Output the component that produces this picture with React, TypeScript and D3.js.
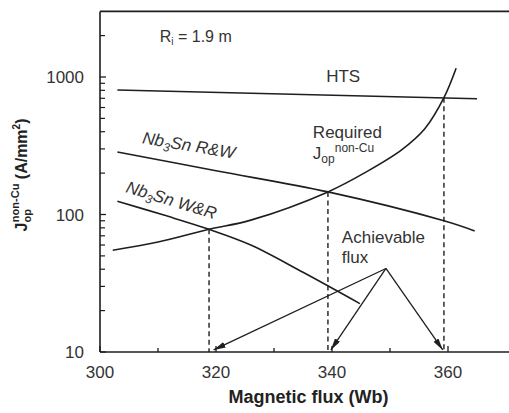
import React from "react"
import * as d3 from "d3"

// flux (Wb) vs J (A/mm^2)
const htsFlux = [303, 365]
const htsJ = [805, 695]
const rwFlux = [303, 320, 339.3, 359.3, 364.6]
const rwJ = [285, 208, 146, 90, 76]
const wrFlux = [303, 311, 318.8, 326, 335, 344.8]
const wrJ = [125, 99, 78, 60, 38, 22.5]
const reqFlux = [302.2, 310, 318.8, 326, 339.3, 346, 352, 356, 359.3, 361.4]
const reqJ = [55, 63, 78, 91, 146, 205, 295, 420, 707, 1157]

// crossings (dashed drops) and arrow tips
const crossFlux = [318.8, 339.3, 359.3]
const crossJ = [78, 146, 707]
const arrowFrom = [349.3, 40.5]
const arrowTipFlux = [319.6, 339.8, 359.1]
const arrowTipJ = 10.35

const xTicks = [300, 310, 320, 330, 340, 350, 360]
const xLabels = [300, 320, 340, 360]
const yMajor = [10, 100, 1000]
const yMinor = [20, 30, 40, 50, 60, 70, 80, 90, 200, 300, 400, 500, 600, 700, 800, 900, 2000]

const W = 509
const H = 413
const font = "'Liberation Sans', Arial, sans-serif"
const ink = "#1e1e1e"

export default function App() {
  const x = d3.scaleLinear().domain([300, 370]).range([100, 506])
  const y = d3.scaleLog().domain([10, 3000]).range([352, 11.4])
  const x0 = x(300)
  const y0 = y(10)
  const yTop = y(3000)

  const line = d3
    .line<[number, number]>()
    .x(d => x(d[0]))
    .y(d => y(d[1]))
    .curve(d3.curveCatmullRom.alpha(0.5))
  const pts = (fx: number[], jy: number[]) => fx.map((f, i) => [f, jy[i]] as [number, number])

  const curve = (fx: number[], jy: number[]) => (
    <path d={line(pts(fx, jy)) || ""} fill="none" stroke={ink} strokeWidth={1.6} />
  )

  return (
    <svg width={W} height={H} style={{ position: "absolute", left: 0, top: 0, background: "#fff" }}
      fontFamily={font}>
      <defs>
        <marker id="head" viewBox="0 0 12 6" refX="12" refY="3" markerWidth="12" markerHeight="6"
          markerUnits="userSpaceOnUse" orient="auto">
          <path d="M0,0 L12,3 L0,6 Z" fill={ink} />
        </marker>
      </defs>

      {/* frame */}
      <line x1={x0} x2={W} y1={yTop} y2={yTop} stroke={ink} strokeWidth={1.6} />
      <line x1={x0} x2={x0} y1={yTop} y2={y0} stroke={ink} strokeWidth={1.6} />
      <line x1={x0} x2={W} y1={y0} y2={y0} stroke={ink} strokeWidth={1.6} />

      {/* x ticks */}
      {xTicks.map(t => (
        <line key={"xt" + t} x1={x(t)} x2={x(t)} y1={y0} y2={y0 - (t % 20 === 0 ? 6 : 4)}
          stroke={ink} strokeWidth={1.3} />
      ))}
      {xLabels.map(t => (
        <text key={"xl" + t} x={x(t)} y={y0 + 26} textAnchor="middle" fontSize={17} fill="#333">{t}</text>
      ))}

      {/* y ticks */}
      {yMajor.map(t => (
        <g key={"ym" + t}>
          <line x1={x0} x2={x0 + 6} y1={y(t)} y2={y(t)} stroke={ink} strokeWidth={1.3} />
          <text x={84} y={y(t)} dy="0.36em" textAnchor="end" fontSize={17} fill="#333">{t}</text>
        </g>
      ))}
      {yMinor.map(t => (
        <line key={"yn" + t} x1={x0} x2={x0 + 5} y1={y(t)} y2={y(t)} stroke={ink} strokeWidth={1.2} />
      ))}

      {/* dashed drops */}
      {crossFlux.map((f, i) => (
        <line key={"dd" + f} x1={x(f)} x2={x(f)} y1={y(crossJ[i])} y2={y0}
          stroke={ink} strokeWidth={1.4} strokeDasharray="5,3.5" />
      ))}

      {curve(htsFlux, htsJ)}
      {curve(rwFlux, rwJ)}
      {curve(wrFlux, wrJ)}
      {curve(reqFlux, reqJ)}

      {/* arrows */}
      {arrowTipFlux.map(f => (
        <line key={"ar" + f} x1={x(arrowFrom[0])} y1={y(arrowFrom[1])} x2={x(f)} y2={y(arrowTipJ)}
          stroke={ink} strokeWidth={1.3} markerEnd="url(#head)" />
      ))}

      {/* annotations */}
      <text x={x(310.3)} y={y(1797)} fontSize={16} fill="#333">
        R<tspan fontSize={10} dy={3}>i</tspan><tspan dy={-3}> = 1.9 m</tspan>
      </text>
      <text x={x(339)} y={y(920)} fontSize={17} fill="#333">HTS</text>
      <text x={x(336.7)} y={y(360)} fontSize={17} fill="#333">Required</text>
      <text x={x(336.7)} y={y(254)} fontSize={17} fill="#333">
        J<tspan fontSize={12} dy={4}>op</tspan><tspan fontSize={12} dy={-11}>non-Cu</tspan>
      </text>
      <text transform={`translate(${x(307.2)},${y(330)}) rotate(9.5)`} fontSize={17}
        fontStyle="italic" fill="#333">
        Nb<tspan fontSize={12} dy={4}>3</tspan><tspan dy={-4}>Sn R&amp;W</tspan>
      </text>
      <text transform={`translate(${x(304.3)},${y(146)}) rotate(17)`} fontSize={17}
        fontStyle="italic" fill="#333">
        Nb<tspan fontSize={12} dy={4}>3</tspan><tspan dy={-4}>Sn W&amp;R</tspan>
      </text>
      <text x={x(341.7)} y={y(61.8)} fontSize={17} fill="#333">Achievable</text>
      <text x={x(341.7)} y={y(44.2)} fontSize={17} fill="#333">flux</text>

      {/* axis titles */}
      <text x={(x0 + W) / 2 + 4} y={403} textAnchor="middle" fontSize={18} fontWeight="bold" fill="#222">
        Magnetic flux (Wb)
      </text>
      <text transform={`translate(27,${(110 + 240) / 2}) rotate(-90)`} textAnchor="middle" fontSize={16}
        fontWeight="bold" fill="#222">
        J<tspan fontSize={11} dy={4}>op</tspan><tspan fontSize={11} dx={-13} dy={-12}>non-Cu</tspan>
        <tspan fontSize={16} dy={8}> (A/mm</tspan><tspan fontSize={10} dy={-7}>2</tspan>
        <tspan fontSize={16} dy={7}>)</tspan>
      </text>
    </svg>
  )
}
